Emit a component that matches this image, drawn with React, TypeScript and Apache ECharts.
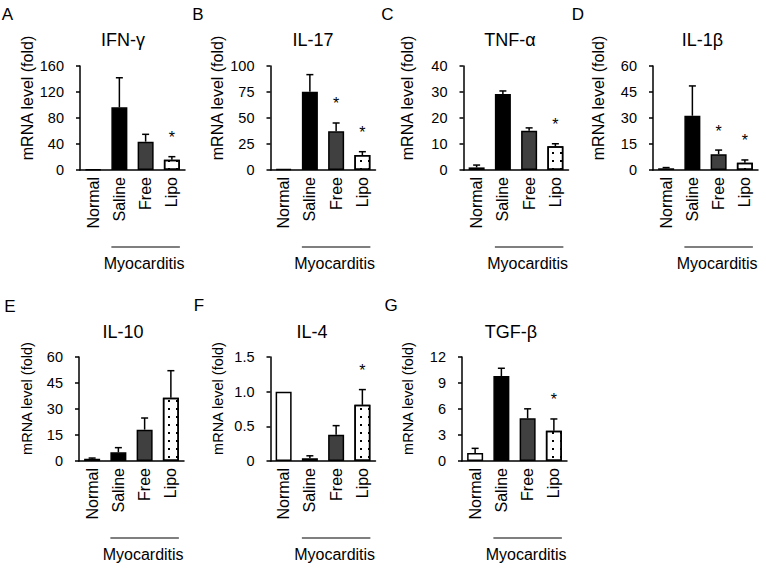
import React, { useEffect, useRef } from "react";
import * as echarts from "echarts";

const categories = ["Normal", "Saline", "Free", "Lipo"];
const panelLetters = ["A", "B", "C", "D", "E", "F", "G"];
const titles = ["IFN-γ", "IL-17", "TNF-α", "IL-1β", "IL-10", "IL-4", "TGF-β"];
const yMax = [160, 100, 40, 60, 60, 1.5, 12];
const yInterval = [40, 25, 10, 15, 15, 0.5, 3];

const ifnMean = [1, 96.4, 43.6, 15.9];
const ifnErr = [0, 45.5, 11.3, 4.6];
const ifnSig = [0, 0, 0, 1];

const il17Mean = [1, 75.3, 37.2, 14.4];
const il17Err = [0, 16.4, 8.0, 3.2];
const il17Sig = [0, 0, 1, 1];

const tnfMean = [1, 29.2, 15.1, 9.1];
const tnfErr = [0.9, 1.2, 1.1, 1.0];
const tnfSig = [0, 0, 0, 1];

const il1bMean = [1, 31.3, 9.1, 4.2];
const il1bErr = [0.4, 17.2, 2.4, 1.6];
const il1bSig = [0, 0, 1, 1];

const il10Mean = [1.3, 5.0, 18.1, 36.5];
const il10Err = [0.4, 2.7, 6.7, 15.6];
const il10Sig = [0, 0, 0, 0];

const il4Mean = [1.0, 0.04, 0.38, 0.81];
const il4Err = [0, 0.035, 0.13, 0.22];
const il4Sig = [0, 0, 0, 1];

const tgfMean = [0.92, 9.8, 4.92, 3.5];
const tgfErr = [0.54, 0.9, 1.1, 1.35];
const tgfSig = [0, 0, 0, 1];

const groupLabel = "Myocarditis";
const yName = "mRNA level (fold)";

const means = [ifnMean, il17Mean, tnfMean, il1bMean, il10Mean, il4Mean, tgfMean];
const errs = [ifnErr, il17Err, tnfErr, il1bErr, il10Err, il4Err, tgfErr];
const sigs = [ifnSig, il17Sig, tnfSig, il1bSig, il10Sig, il4Sig, tgfSig];

// layout
const FONT = '"Liberation Sans", Arial, Helvetica, sans-serif';
const gridLeft = [80, 270.5, 463.5, 653, 79, 270.5, 462];
const gridTop = [66, 66, 66, 66, 357, 357, 357];
const gridW = 105;
const gridH = 104;
const titleX = [123, 313, 510, 702.5, 123, 312, 511];
const titleY = [40, 40, 40, 40, 332, 332, 332];
const nameX = [27, 217, 407.5, 598, 27, 217.5, 407.5];
const nameY = [98, 98, 98, 98, 398.5, 398.5, 398.5];
const nameSize = [16, 16, 16, 16, 14.5, 14.5, 14.5];
const letterX = [7.5, 198, 387.5, 578, 10, 199, 391];
const letterY = [14, 14, 14, 14, 306, 305, 305];

const barStyles = [
  { color: "#ffffff", borderColor: "#000", borderWidth: 1.5 },
  { color: "#000000", borderColor: "#000", borderWidth: 1.5 },
  { color: "#404040", borderColor: "#000", borderWidth: 1.5 },
  {
    color: "#ffffff",
    borderColor: "#000",
    borderWidth: 1.5,
    decal: {
      symbol: "rect",
      symbolSize: 1,
      color: "#000",
      dashArrayX: [1.5, 6],
      dashArrayY: [1.5, 5.5],
      rotation: 0,
    },
  },
];

export default function App() {
  const ref = useRef<HTMLDivElement>(null);
  useEffect(() => {
    if (!ref.current) return;
    const chart = echarts.init(ref.current, null, { renderer: "svg" });
    const grids: any[] = [];
    const xAxes: any[] = [];
    const yAxes: any[] = [];
    const series: any[] = [];
    const graphic: any[] = [];
    for (let i = 0; i < 7; i++) {
      grids.push({ left: gridLeft[i], top: gridTop[i], width: gridW, height: gridH, containLabel: false });
      xAxes.push({
        gridIndex: i,
        type: "category",
        data: categories,
        axisLine: { show: true, lineStyle: { color: "#000", width: 1.5 } },
        axisTick: { show: false },
        axisLabel: { rotate: 90, interval: 0, fontSize: 16, color: "#000", margin: 7, fontFamily: FONT },
      });
      yAxes.push({
        gridIndex: i,
        type: "value",
        min: 0,
        max: yMax[i],
        interval: yInterval[i],
        axisLine: { show: true, lineStyle: { color: "#000", width: 1.5 } },
        axisTick: { show: true, length: 4, lineStyle: { color: "#000", width: 1.5 } },
        splitLine: { show: false },
        axisLabel: {
          fontSize: 14.5,
          color: "#000",
          margin: 16,
          fontFamily: FONT,
          formatter: (v: number) => (v === 0 ? "0" : yInterval[i] < 1 ? v.toFixed(1) : String(v)),
        },
      });
      series.push({
        type: "bar",
        xAxisIndex: i,
        yAxisIndex: i,
        barWidth: 16,
        data: means[i].map((m, k) => ({ value: m, itemStyle: barStyles[k] })),
        z: 2,
      });
      series.push({
        type: "custom",
        xAxisIndex: i,
        yAxisIndex: i,
        z: 3,
        data: means[i].map((m, k) => [k, m, errs[i][k], sigs[i][k]]),
        encode: { x: 0, y: 1 },
        renderItem: (params: any, api: any) => {
          const x = api.value(0);
          const m = api.value(1);
          const e = api.value(2);
          const s = api.value(3);
          const base = api.coord([x, m]);
          const top = api.coord([x, m + e]);
          const children: any[] = [];
          if (e > 0) {
            children.push({
              type: "line",
              shape: { x1: base[0], y1: base[1], x2: top[0], y2: top[1] },
              style: { stroke: "#000", lineWidth: 1.5 },
            });
            children.push({
              type: "line",
              shape: { x1: top[0] - 3.5, y1: top[1], x2: top[0] + 3.5, y2: top[1] },
              style: { stroke: "#000", lineWidth: 1.5 },
            });
          }
          if (s) {
            children.push({
              type: "text",
              x: top[0],
              y: top[1] - 19,
              style: { text: "*", fill: "#000", font: `16px ${FONT}`, align: "center", verticalAlign: "middle" },
            });
          }
          return { type: "group", children };
        },
      });
      // texts
      graphic.push({
        type: "text",
        x: letterX[i],
        y: letterY[i],
        style: { text: panelLetters[i], fill: "#000", font: `17px ${FONT}`, align: "center", verticalAlign: "middle" },
      });
      graphic.push({
        type: "text",
        x: titleX[i],
        y: titleY[i],
        style: { text: titles[i], fill: "#000", font: `18px ${FONT}`, align: "center", verticalAlign: "middle" },
      });
      graphic.push({
        type: "text",
        x: nameX[i],
        y: nameY[i],
        rotation: Math.PI / 2,
        style: { text: yName, fill: "#000", font: `${nameSize[i]}px ${FONT}`, align: "center", verticalAlign: "middle" },
      });
      const band = gridW / 4;
      const zero = gridTop[i] + gridH;
      const x1 = gridLeft[i] + 1.5 * band - 8;
      const x2 = gridLeft[i] + 3.5 * band + 8;
      graphic.push({
        type: "line",
        shape: { x1, y1: zero + 77, x2, y2: zero + 77 },
        style: { stroke: "#000", lineWidth: 1.2 },
      });
      graphic.push({
        type: "text",
        x: (x1 + x2) / 2 - 1.5,
        y: zero + 93,
        style: { text: groupLabel, fill: "#000", font: `16px ${FONT}`, align: "center", verticalAlign: "middle" },
      });
    }
    chart.setOption({
      animation: false,
      backgroundColor: "#ffffff",
      textStyle: { fontFamily: FONT },
      grid: grids,
      xAxis: xAxes,
      yAxis: yAxes,
      series,
      graphic,
    });
    return () => chart.dispose();
  }, []);
  return (
    <div
      ref={ref}
      style={{ position: "fixed", left: 0, top: 0, width: 766, height: 569, background: "#fff" }}
    />
  );
}
